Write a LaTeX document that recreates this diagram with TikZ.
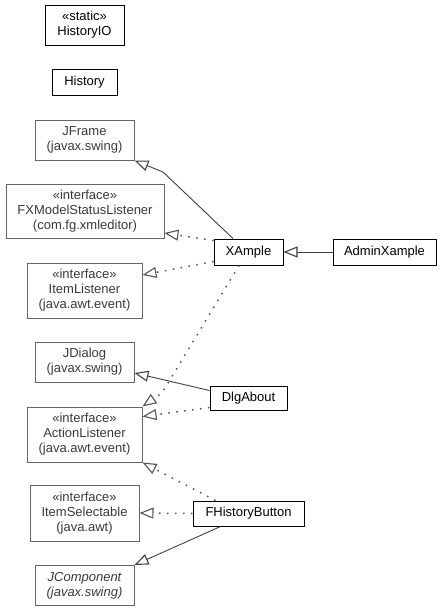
\documentclass[tikz,border=0pt]{standalone}
\usepackage{fontspec}
\setmainfont{Liberation Sans}
\usetikzlibrary{arrows.meta}
\definecolor{extborder}{HTML}{666666}
\definecolor{exttext}{HTML}{3A3A3A}
\definecolor{edgecol}{HTML}{404040}
\definecolor{dotcol}{HTML}{555555}
\tikzset{
  cls/.style={draw=black, line width=1pt, fill=white, align=center, inner sep=0pt,
    font=\fontsize{13}{15}\selectfont, text=black},
  ext/.style={draw=extborder, line width=1pt, fill=white, align=center, inner sep=0pt,
    font=\fontsize{13}{15}\selectfont, text=exttext},
  gen/.style={draw=edgecol, line width=0.9pt, -{Triangle[open,length=14pt,width=11pt,line width=1.1pt]}},
  real/.style={draw=dotcol, line width=1.5pt, dash pattern=on 1.5pt off 6.5pt,
    -{Triangle[open,length=14pt,width=11pt,line width=1.1pt]}},
}
\begin{document}
\begin{tikzpicture}[x=1pt,y=-1pt]
\useasboundingbox (0,0) rectangle (441,611);

\node[cls, minimum width=79pt, minimum height=40pt] (historyio) at (84.5,25) {«static»\\HistoryIO};
\node[cls, minimum width=65pt, minimum height=26pt] (history) at (84.5,82) {History};
\node[ext, minimum width=99pt, minimum height=40pt] (jframe) at (84.5,140) {JFrame\\(javax.swing)};
\node[ext, minimum width=158pt, minimum height=54pt] (fxmodel) at (85,211) {«interface»\\FXModelStatusListener\\(com.fg.xmleditor)};
\node[ext, minimum width=115pt, minimum height=55pt] (itemlistener) at (84.5,290.5) {«interface»\\ItemListener\\(java.awt.event)};
\node[ext, minimum width=99pt, minimum height=40pt] (jdialog) at (84.5,362) {JDialog\\(javax.swing)};
\node[ext, minimum width=115pt, minimum height=55pt] (actionlistener) at (84.5,434.5) {«interface»\\ActionListener\\(java.awt.event)};
\node[ext, minimum width=109pt, minimum height=56pt] (itemselectable) at (84.5,513) {«interface»\\ItemSelectable\\(java.awt)};
\node[ext, minimum width=99pt, minimum height=40pt] (jcomponent) at (84.5,585.5) {\itshape JComponent\\\itshape (javax.swing)};

\node[cls, minimum width=69pt, minimum height=26pt] (xample) at (248.5,252) {XAmple};
\node[cls, minimum width=103pt, minimum height=26pt] (adminxample) at (384.5,252) {AdminXample};
\node[cls, minimum width=77pt, minimum height=24pt] (dlgabout) at (248.5,398.5) {DlgAbout};
\node[cls, minimum width=111pt, minimum height=25pt] (fhistorybutton) at (248.5,513.5) {FHistoryButton};

\coordinate (bendjf) at (163,172);
\coordinate (bendal) at (162,393);

\draw[gen] ([xshift=-15.5pt]xample.north) -- (bendjf) -- (jframe.south east);
\draw[real] ([yshift=-2pt]xample.north west) -- ([yshift=-22pt]fxmodel.east);
\draw[real] ([yshift=4pt]xample.south west) -- ([yshift=15.5pt]itemlistener.east);
\draw[real] ([xshift=-9.5pt]xample.south) -- (bendal) -- (actionlistener.north east);
\draw[gen] (adminxample.west) -- (xample.east);

\draw[gen] ([yshift=8pt]dlgabout.west) -- ([yshift=-11pt]jdialog.east);
\draw[real] ([yshift=-9pt]dlgabout.west) -- ([yshift=18pt]actionlistener.east);

\draw[real] ([xshift=-33pt]fhistorybutton.north) -- (actionlistener.south east);
\draw[real] (fhistorybutton.west) -- (itemselectable.east);
\draw[gen] ([xshift=-28pt]fhistorybutton.south) -- (jcomponent.north east);
\end{tikzpicture}
\end{document}
